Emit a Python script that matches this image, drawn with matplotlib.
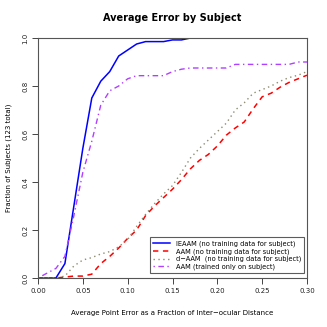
import matplotlib
matplotlib.use("Agg")
import matplotlib.pyplot as plt
import numpy as np

x = [0.00, 0.01, 0.02, 0.03, 0.04, 0.05, 0.06, 0.07, 0.08, 0.09, 0.10,
     0.11, 0.12, 0.13, 0.14, 0.15, 0.16, 0.17, 0.18, 0.19, 0.20,
     0.21, 0.22, 0.23, 0.24, 0.25, 0.26, 0.27, 0.28, 0.29, 0.30]

ieaam = [0.0, 0.0, 0.0, 0.06, 0.30, 0.54, 0.75, 0.82, 0.86, 0.925, 0.95,
         0.975, 0.985, 0.985, 0.985, 0.992, 0.992, 1.0, 1.0, 1.0, 1.0,
         1.0, 1.0, 1.0, 1.0, 1.0, 1.0, 1.0, 1.0, 1.0, 1.0]

aam = [0.0, 0.0, 0.0, 0.004, 0.008, 0.008, 0.016, 0.06, 0.09, 0.125, 0.165,
       0.20, 0.26, 0.30, 0.335, 0.37, 0.41, 0.455, 0.49, 0.515, 0.55,
       0.595, 0.625, 0.65, 0.705, 0.755, 0.77, 0.795, 0.815, 0.83, 0.845]

daam = [0.0, 0.0, 0.0, 0.008, 0.05, 0.075, 0.085, 0.10, 0.11, 0.13, 0.16,
        0.215, 0.265, 0.31, 0.35, 0.385, 0.44, 0.50, 0.54, 0.575, 0.61,
        0.645, 0.70, 0.73, 0.77, 0.785, 0.80, 0.82, 0.835, 0.845, 0.86]

aam_subj = [0.0, 0.02, 0.04, 0.09, 0.26, 0.44, 0.57, 0.72, 0.78, 0.80, 0.83,
            0.843, 0.843, 0.843, 0.843, 0.86, 0.87, 0.875, 0.875, 0.875, 0.875,
            0.875, 0.89, 0.89, 0.89, 0.89, 0.89, 0.89, 0.89, 0.90, 0.90]

labels = ["IEAAM (no training data for subject)",
          "AAM (no training data for subject)",
          "d\u2212AAM  (no training data for subject)",
          "AAM (trained only on subject)"]

xticks = [0.00, 0.05, 0.10, 0.15, 0.20, 0.25, 0.30]
yticks = [0.0, 0.2, 0.4, 0.6, 0.8, 1.0]

W = H = 327
fig = plt.figure(figsize=(W / 100, H / 100), dpi=100)
ax = fig.add_axes([38 / W, (H - 278) / H, (307 - 38) / W, (278 - 38) / H])

ax.plot(x, ieaam, color="#0000FF", lw=1.1, ls="-", label=labels[0])
ax.plot(x, aam, color="#FF0000", lw=1.1, ls=(0, (3.5, 3)), label=labels[1])
ax.plot(x, daam, color="#8C8C70", lw=1.0, ls=(0, (1, 2.5)), label=labels[2])
ax.plot(x, aam_subj, color="#B040FF", lw=1.0, ls=(0, (1, 2.5, 4, 2.5)), label=labels[3])

ax.set_xlim(0, 0.30)
ax.set_ylim(0, 1.0)
ax.set_xticks(xticks)
ax.set_xticklabels([f"{v:.2f}" for v in xticks], fontsize=5, color="#222222")
ax.set_yticks(yticks)
ax.set_yticklabels([f"{v:.1f}" for v in yticks], fontsize=5, rotation=90,
                   va="center", color="#222222")
ax.tick_params(direction="out", length=4, width=0.7, pad=3, colors="#444444",
               labelcolor="#222222")
for s in ax.spines.values():
    s.set_linewidth(0.8)
    s.set_color("#555555")

ax.set_title("Average Error by Subject", fontsize=7, fontweight="bold", pad=12)
ax.set_xlabel("Average Point Error as a Fraction of Inter\u2212ocular Distance",
              fontsize=5, labelpad=12)
ax.set_ylabel("Fraction of Subjects (123 total)", fontsize=5, labelpad=8)
ax.yaxis.set_label_coords(-0.095, 0.5)

leg = ax.legend(loc="lower right", bbox_to_anchor=(0.99, 0.02), fontsize=4.8,
                frameon=True, fancybox=False, edgecolor="#333333",
                handlelength=2.6, handletextpad=0.9, borderpad=0.45,
                labelspacing=0.2, borderaxespad=0)
leg.get_frame().set_linewidth(0.8)

fig.savefig("out.png", dpi=100)
